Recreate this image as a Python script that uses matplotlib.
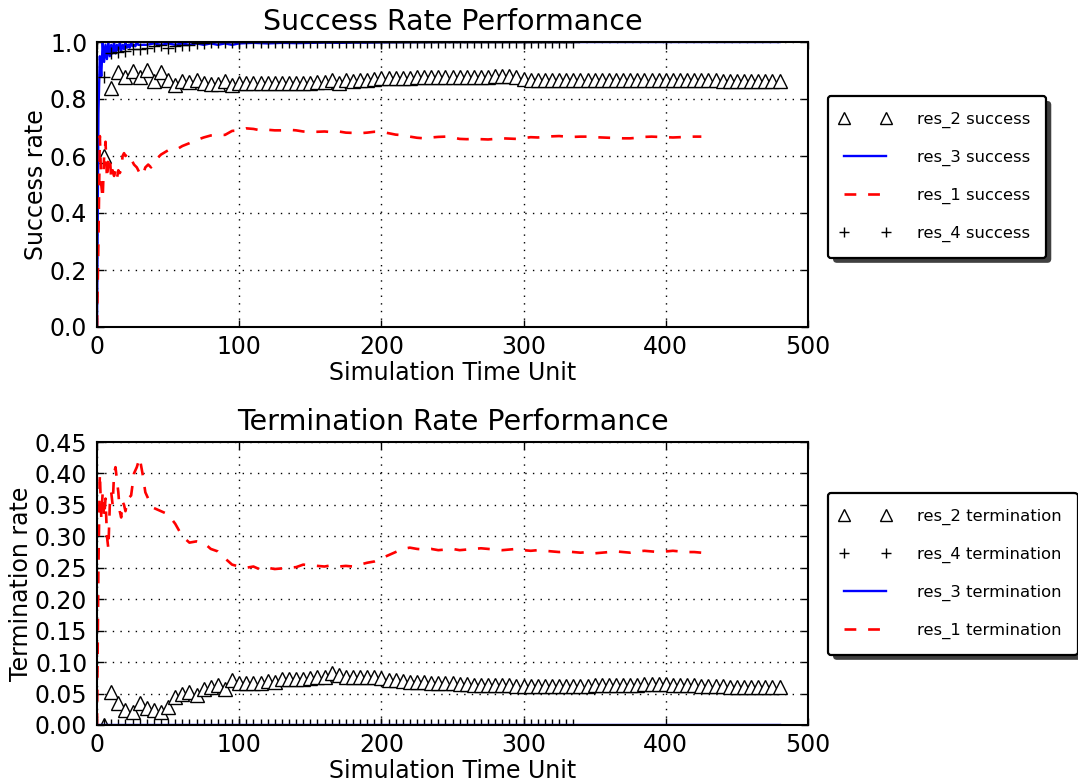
import matplotlib
matplotlib.use("Agg")
import matplotlib.pyplot as plt
from matplotlib.lines import Line2D
from matplotlib.legend_handler import HandlerLine2D
from matplotlib.patches import FancyBboxPatch

# ---------------- data ----------------
res2_x = list(range(5, 485, 5))
res2_success = [
    0.600, 0.840, 0.895, 0.876, 0.897, 0.876, 0.903, 0.864, 0.894, 0.868,   # 5-50
    0.848, 0.864, 0.860, 0.868, 0.855, 0.852, 0.852, 0.863, 0.849, 0.855,   # 55-100
    0.855, 0.855, 0.855, 0.855, 0.855, 0.855, 0.856, 0.856, 0.856, 0.857,   # 105-150
    0.858, 0.858, 0.867, 0.856, 0.866, 0.863, 0.867, 0.868, 0.870, 0.872,   # 155-200
    0.872, 0.873, 0.874, 0.875, 0.876, 0.878, 0.878, 0.877, 0.876, 0.876,   # 205-250
    0.877, 0.877, 0.877, 0.878, 0.878, 0.879, 0.880, 0.879, 0.877, 0.870,   # 255-300
    0.868, 0.868, 0.867, 0.867, 0.866, 0.866, 0.866, 0.866, 0.866, 0.866,   # 305-350
    0.866, 0.866, 0.866, 0.866, 0.866, 0.867, 0.867, 0.867, 0.867, 0.867,   # 355-400
    0.866, 0.866, 0.865, 0.865, 0.865, 0.865, 0.865, 0.864, 0.864, 0.864,   # 405-450
    0.864, 0.863, 0.863, 0.863, 0.862, 0.862,                               # 455-480
]
res2_termination = [
    0.000, 0.053, 0.035, 0.024, 0.021, 0.035, 0.027, 0.024, 0.021, 0.029,   # 5-50
    0.045, 0.050, 0.053, 0.048, 0.058, 0.061, 0.064, 0.058, 0.072, 0.067,   # 55-100
    0.067, 0.067, 0.066, 0.070, 0.069, 0.073, 0.073, 0.073, 0.073, 0.074,   # 105-150
    0.076, 0.076, 0.082, 0.080, 0.076, 0.077, 0.077, 0.076, 0.076, 0.074,   # 155-200
    0.072, 0.071, 0.070, 0.069, 0.068, 0.068, 0.067, 0.067, 0.066, 0.066,   # 205-250
    0.065, 0.065, 0.064, 0.064, 0.064, 0.063, 0.063, 0.063, 0.062, 0.062,   # 255-300
    0.062, 0.062, 0.062, 0.062, 0.062, 0.062, 0.062, 0.062, 0.062, 0.063,   # 305-350
    0.063, 0.063, 0.063, 0.064, 0.064, 0.064, 0.065, 0.065, 0.065, 0.065,   # 355-400
    0.064, 0.064, 0.063, 0.063, 0.062, 0.062, 0.062, 0.062, 0.061, 0.061,   # 405-450
    0.061, 0.061, 0.061, 0.061, 0.061, 0.061,                               # 455-480
]

res1_x = (list(range(0, 21)) + list(range(22, 42, 2)) + list(range(45, 430, 5)))
res1_success = [
    0.00, 0.30, 0.67, 0.50, 0.45, 0.60, 0.65, 0.52, 0.58, 0.60, 0.52,       # 0-10
    0.55, 0.53, 0.55, 0.52, 0.55, 0.54, 0.55, 0.60, 0.61, 0.60,             # 11-20
    0.61, 0.59, 0.57, 0.56, 0.54, 0.53, 0.56, 0.57, 0.56, 0.58,             # 22-40
    0.605, 0.620, 0.620, 0.635, 0.645, 0.656, 0.665, 0.672, 0.675, 0.674,   # 45-90
    0.688, 0.690, 0.697, 0.695, 0.690, 0.692, 0.690, 0.690, 0.692, 0.690,   # 95-140
    0.686, 0.685, 0.685, 0.686, 0.684, 0.686, 0.682, 0.681, 0.680, 0.682,   # 145-190
    0.685, 0.685, 0.680, 0.675, 0.673, 0.668, 0.664, 0.662, 0.665, 0.667,   # 195-240
    0.668, 0.665, 0.660, 0.659, 0.660, 0.659, 0.658, 0.660, 0.662, 0.661,   # 245-290
    0.660, 0.663, 0.666, 0.665, 0.667, 0.669, 0.670, 0.668, 0.667, 0.668,   # 295-340
    0.668, 0.666, 0.665, 0.664, 0.663, 0.662, 0.662, 0.664, 0.667, 0.668,   # 345-390
    0.667, 0.666, 0.665, 0.666, 0.667, 0.668, 0.668,                        # 395-425
]
res1_termination = [
    0.00, 0.25, 0.40, 0.33, 0.37, 0.33, 0.36, 0.30, 0.28, 0.35, 0.37,       # 0-10
    0.35, 0.40, 0.41, 0.39, 0.37, 0.34, 0.33, 0.355, 0.35, 0.34,            # 11-20
    0.36, 0.365, 0.40, 0.41, 0.425, 0.40, 0.37, 0.36, 0.35, 0.345,          # 22-40
    0.340, 0.335, 0.320, 0.300, 0.290, 0.292, 0.290, 0.280, 0.276, 0.265,   # 45-90
    0.255, 0.252, 0.250, 0.252, 0.247, 0.250, 0.248, 0.249, 0.250, 0.251,   # 95-140
    0.255, 0.254, 0.253, 0.252, 0.254, 0.252, 0.253, 0.252, 0.255, 0.258,   # 145-190
    0.260, 0.265, 0.270, 0.275, 0.280, 0.282, 0.280, 0.279, 0.280, 0.278,   # 195-240
    0.279, 0.280, 0.278, 0.279, 0.280, 0.281, 0.280, 0.279, 0.278, 0.279,   # 245-290
    0.280, 0.278, 0.277, 0.278, 0.277, 0.276, 0.275, 0.276, 0.275, 0.274,   # 295-340
    0.275, 0.273, 0.274, 0.275, 0.276, 0.275, 0.274, 0.276, 0.277, 0.276,   # 345-390
    0.275, 0.276, 0.277, 0.276, 0.275, 0.275, 0.274,                        # 395-425
]

res3_x = (list(range(0, 31)) + list(range(35, 105, 5)) + list(range(110, 210, 10))
          + [250, 300, 350, 400, 450, 480])
res3_success = [
    0.00, 0.75, 0.95, 0.88, 1.00, 0.93, 0.99, 0.94, 1.00, 0.95, 0.99,       # 0-10
    0.96, 1.00, 0.96, 0.99, 0.97, 1.00, 0.97, 0.99, 0.975, 1.00,            # 11-20
    0.98, 0.99, 0.98, 1.00, 0.985, 0.99, 0.985, 1.00, 0.99, 0.99,           # 21-30
    0.99, 0.995, 0.99, 0.995, 0.99, 0.995, 0.99, 0.995, 0.99, 0.995,        # 35-80
    0.99, 0.995, 0.99, 0.995,                                               # 85-100
    0.997, 0.995, 0.997, 0.996, 0.997, 0.998, 0.997, 0.998, 0.998, 0.999,   # 110-200
    1.00, 1.00, 1.00, 1.00, 1.00, 1.00,                                     # 250-480
]
res3_termination = [
    0.0, 0.0, 0.0, 0.0, 0.0, 0.0, 0.0, 0.0, 0.0, 0.0, 0.0,
    0.0, 0.0, 0.0, 0.0, 0.0, 0.0, 0.0, 0.0, 0.0, 0.0,
    0.0, 0.0, 0.0, 0.0, 0.0, 0.0, 0.0, 0.0, 0.0, 0.0,
    0.0, 0.0, 0.0, 0.0, 0.0, 0.0, 0.0, 0.0, 0.0, 0.0,
    0.0, 0.0, 0.0, 0.0,
    0.0, 0.0, 0.0, 0.0, 0.0, 0.0, 0.0, 0.0, 0.0, 0.0,
    0.0, 0.0, 0.0, 0.0, 0.0, 0.0,
]

res4_x = list(range(5, 340, 5))
res4_success = [
    0.877, 0.960, 0.965, 0.970, 0.975, 0.975, 0.980, 0.985, 0.990, 0.980,   # 5-50
    0.985, 0.990, 0.990, 0.995, 0.995, 1.000, 1.000, 1.000, 1.000, 1.000,   # 55-100
    1.000, 1.000, 1.000, 1.000, 1.000, 1.000, 1.000, 1.000, 1.000, 1.000,   # 105-150
    1.000, 1.000, 1.000, 1.000, 1.000, 1.000, 1.000, 1.000, 1.000, 1.000,   # 155-200
    1.000, 1.000, 1.000, 1.000, 1.000, 1.000, 1.000, 1.000, 1.000, 1.000,   # 205-250
    1.000, 1.000, 1.000, 1.000, 1.000, 1.000, 1.000, 1.000, 1.000, 1.000,   # 255-300
    1.000, 1.000, 1.000, 1.000, 1.000, 1.000, 1.000,                        # 305-335
]
res4_termination = [
    0.0, 0.0, 0.0, 0.0, 0.0, 0.0, 0.0, 0.0, 0.0, 0.0,
    0.0, 0.0, 0.0, 0.0, 0.0, 0.0, 0.0, 0.0, 0.0, 0.0,
    0.0, 0.0, 0.0, 0.0, 0.0, 0.0, 0.0, 0.0, 0.0, 0.0,
    0.0, 0.0, 0.0, 0.0, 0.0, 0.0, 0.0, 0.0, 0.0, 0.0,
    0.0, 0.0, 0.0, 0.0, 0.0, 0.0, 0.0, 0.0, 0.0, 0.0,
    0.0, 0.0, 0.0, 0.0, 0.0, 0.0, 0.0, 0.0, 0.0, 0.0,
    0.0, 0.0, 0.0, 0.0, 0.0, 0.0, 0.0,
]

x_ticks = [0, 100, 200, 300, 400, 500]
succ_ticks = [0.0, 0.2, 0.4, 0.6, 0.8, 1.0]
term_ticks = [0.00, 0.05, 0.10, 0.15, 0.20, 0.25, 0.30, 0.35, 0.40, 0.45]

# ---------------- style ----------------
FS = 17
plt.rcParams.update({
    "font.family": "DejaVu Sans",
    "font.size": FS,
    "xtick.direction": "in",
    "ytick.direction": "in",
    "xtick.top": True,
    "ytick.right": True,
    "xtick.major.size": 5,
    "ytick.major.size": 5,
    "xtick.major.width": 1.0,
    "ytick.major.width": 1.0,
    "xtick.major.pad": 6,
    "ytick.major.pad": 7,
    "axes.linewidth": 1.5,
    "lines.scale_dashes": False,
})

W, H = 1078, 784
fig = plt.figure(figsize=(W / 100, H / 100), dpi=100)
ax1 = fig.add_axes([97 / W, 1 - 327 / H, 711 / W, 285 / H])
ax2 = fig.add_axes([97 / W, 1 - 725 / H, 711 / W, 283 / H])

MS = 10
tri_kw = dict(linestyle="none", marker="^", markersize=MS, markerfacecolor="white",
              markeredgecolor="black", markeredgewidth=1.0)
plus_kw = dict(linestyle="none", marker="+", markersize=9, color="black",
               markeredgewidth=1.0)
blue_kw = dict(color="blue", linewidth=1.7)
red_kw = dict(color="red", linewidth=1.9, linestyle=(0, (8.5, 8.5)))

# top panel
ax1.plot(res2_x, res2_success, label="res_2 success", **tri_kw)
ax1.plot(res3_x, res3_success, label="res_3 success", **blue_kw)
ax1.plot(res1_x, res1_success, label="res_1 success", **red_kw)
ax1.plot(res4_x, res4_success, label="res_4 success", **plus_kw)

# bottom panel
ax2.plot(res2_x, res2_termination, label="res_2 termination", **tri_kw)
ax2.plot(res4_x, res4_termination, label="res_4 termination", **plus_kw)
ax2.plot(res3_x, res3_termination, label="res_3 termination", **blue_kw)
ax2.plot(res1_x, res1_termination, label="res_1 termination", **red_kw)

for ax in (ax1, ax2):
    ax.set_xlim(0, 500)
    ax.set_xticks(x_ticks)
    ax.set_xlabel("Simulation Time Unit", labelpad=1.5)
    ax.grid(True, color="black", linestyle=(0, (1, 4.5)), linewidth=1.0)

ax1.set_ylim(0, 1.0)
ax1.set_yticks(succ_ticks)
ax1.set_yticklabels([f"{t:.1f}" for t in succ_ticks])
ax1.set_ylabel("Success rate", labelpad=1)
ax1.set_title("Success Rate Performance", fontsize=20.5, pad=9)

ax2.set_ylim(0, 0.45)
ax2.set_yticks(term_ticks)
ax2.set_yticklabels([f"{t:.2f}" for t in term_ticks])
ax2.set_ylabel("Termination rate", labelpad=1)
ax2.set_title("Termination Rate Performance", fontsize=20.5, pad=9)

leg_kw = dict(loc="upper left", bbox_transform=fig.transFigure, borderaxespad=0,
              fontsize=11.8, numpoints=2, handlelength=2.6, handletextpad=1.9,
              labelspacing=1.34, borderpad=0.95, fancybox=True, shadow=False,
              framealpha=1.0, edgecolor="black", markerscale=0.85,
              handler_map={Line2D: HandlerLine2D(marker_pad=0)})
l1 = ax1.legend(bbox_to_anchor=(828 / W, 1 - 96 / H), **leg_kw)
l2 = ax2.legend(bbox_to_anchor=(828 / W, 1 - 493 / H), **leg_kw)
for lg in (l1, l2):
    lg.get_frame().set_linewidth(1.6)

# drop shadows behind the legend boxes
fig.canvas.draw()
for ax, lg in ((ax1, l1), (ax2, l2)):
    bb = lg.get_frame().get_window_extent()
    sh = FancyBboxPatch((bb.x0 + 5, bb.y0 - 5), bb.width, bb.height,
                        boxstyle="round,pad=0,rounding_size=4",
                        transform=None, facecolor="0.25", edgecolor="none",
                        clip_on=False, zorder=4.9)
    ax.add_artist(sh)

fig.savefig("out.png", dpi=100)
